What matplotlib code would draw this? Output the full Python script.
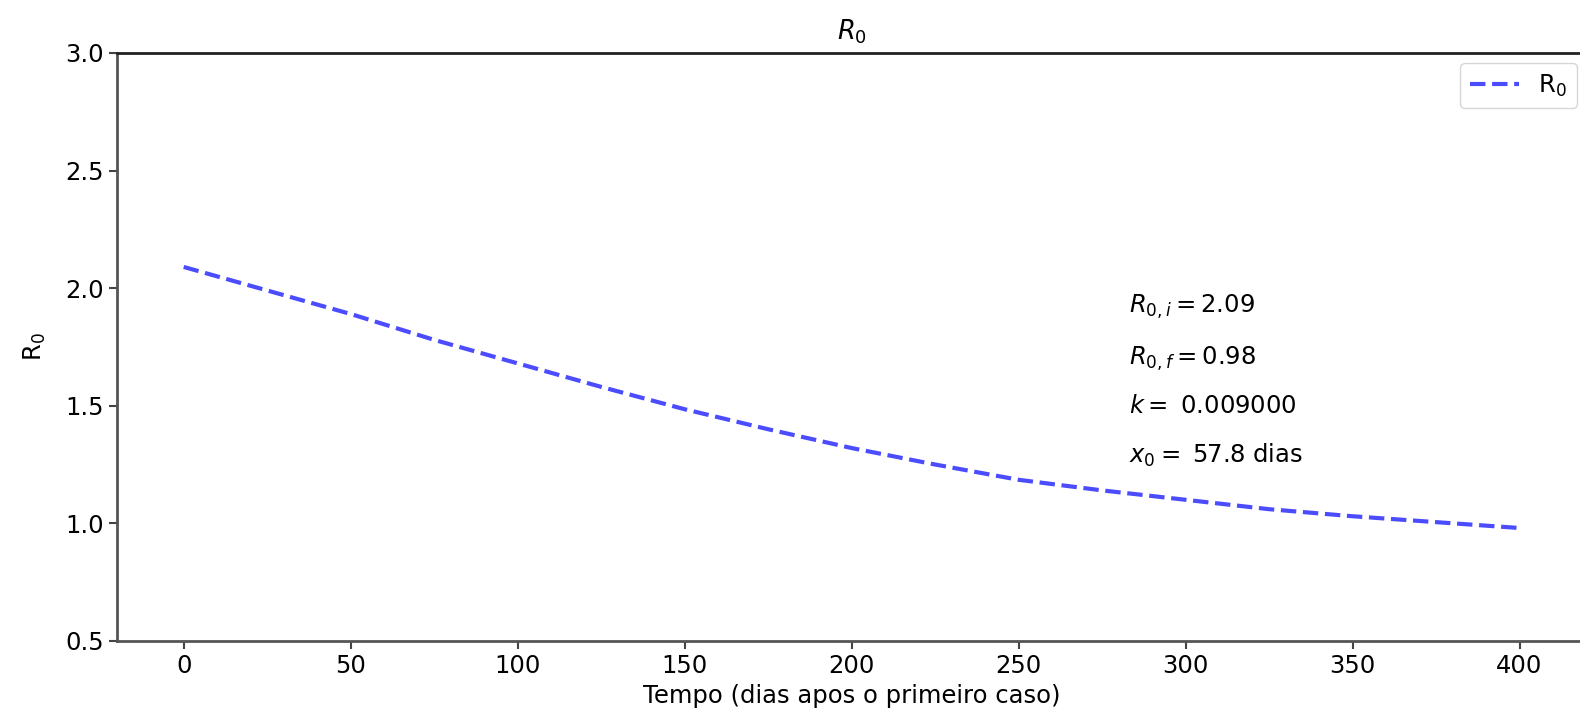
import matplotlib
matplotlib.use("Agg")
import matplotlib.pyplot as plt

# Data
days = [0, 25, 50, 75, 100, 125, 150, 175, 200, 225, 250, 275, 300, 325, 350, 375, 400]
r0_values = [2.09, 1.99, 1.89, 1.78, 1.68, 1.58, 1.485, 1.40, 1.32, 1.25, 1.185, 1.14, 1.10, 1.06, 1.03, 1.005, 0.98]

annot_lines = [r"$R_{0,i}=$2.09", r"$R_{0,f}=$0.98", r"$k=$ 0.009000", r"$x_0=$ 57.8 dias"]
annot_y = [1.92, 1.70, 1.50, 1.29]
annot_x = 283

FS = 17.5
fig = plt.figure(figsize=(15.8, 7.25), dpi=100)
ax = fig.add_axes([0.074, 0.116, 0.93, 0.811])

ax.plot(days, r0_values, linestyle="--", color="blue", alpha=0.7, linewidth=3, label="R$_0$")
ax.set_xlim(-20, 420)
ax.set_ylim(0.5, 3.0)
ax.set_xticks([0, 50, 100, 150, 200, 250, 300, 350, 400])
ax.set_yticks([0.5, 1.0, 1.5, 2.0, 2.5, 3.0])
ax.tick_params(labelsize=FS, length=6, width=1.5, color="#444444")
for s in ax.spines.values():
    s.set_linewidth(2.0)
    s.set_color("#555555")
ax.spines["top"].set_color("#222222")

ax.set_xlabel("Tempo (dias apos o primeiro caso)", fontsize=FS, labelpad=4)
ax.set_ylabel("R$_0$", fontsize=FS, labelpad=12)
ax.set_title("$R_0$", fontsize=FS + 1, pad=10)

for txt, yy in zip(annot_lines, annot_y):
    ax.text(annot_x, yy, txt, fontsize=FS, va="center", ha="left")

ax.legend(loc="upper right", fontsize=FS, framealpha=0.8, borderaxespad=0.4)

fig.savefig("out.png", dpi=100)
